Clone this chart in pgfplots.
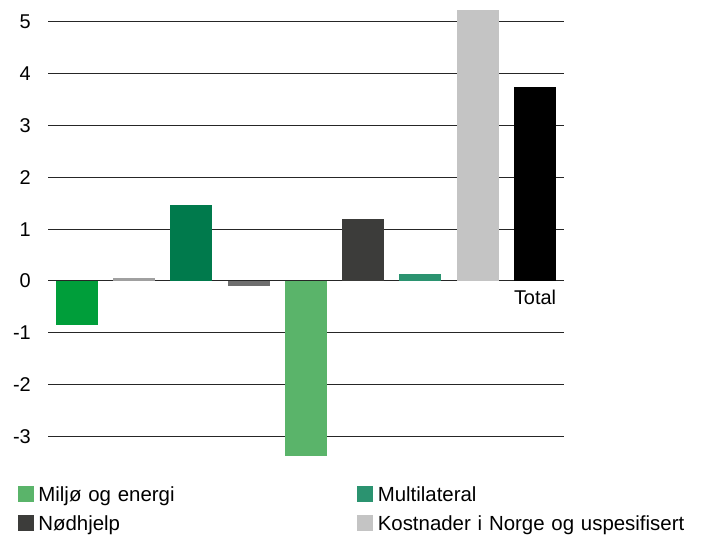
\documentclass[border=0pt]{standalone}
\usepackage{fontspec}
\setmainfont{Liberation Sans}
\usepackage{pgfplots}
\pgfplotsset{compat=1.18}
\definecolor{c1}{HTML}{009E3A}
\definecolor{c2}{HTML}{A0A0A0}
\definecolor{c3}{HTML}{007A4C}
\definecolor{c4}{HTML}{6E6E6E}
\definecolor{c5}{HTML}{5AB46A}
\definecolor{c6}{HTML}{3C3C3A}
\definecolor{c7}{HTML}{2B9370}
\definecolor{c8}{HTML}{C4C4C4}
\pgfplotsset{legsq/.style={legend image code/.code={\fill[#1] (0bp,0bp) rectangle (15bp,15bp);}}}
\begin{document}
\begin{tikzpicture}
\begin{axis}[
  x=57.3bp, y=51.8bp,
  xmin=0.5, xmax=9.5, ymin=-3.4, ymax=5.25,
  axis line style={draw=none}, tick style={draw=none},
  xtick=\empty, ytick={-3,...,5},
  ymajorgrids, grid style={black!85, line width=1bp},
  yticklabel style={anchor=east, inner sep=0pt, xshift=-17bp},
  /pgf/number format/assume math mode=true,
  font=\fontsize{20}{24}\selectfont,
  ybar, bar width=0.733, bar shift=0pt,
  clip=false,
  legend columns=2,
  legend style={at={(-0.0582,-0.0645)}, anchor=north west, draw=none, fill=none,
    inner sep=0pt, outer sep=0pt, column sep=5bp, row sep=9bp,
    cells={anchor=base west},
    nodes={inner sep=0pt, text width=314bp, align=left, text height=15bp, text depth=5bp},
    font=\fontsize{20.5}{24}\selectfont},
]
\addplot[fill=c1, draw=none, forget plot] coordinates {(1,-0.85)};
\addplot[fill=c2, draw=none, forget plot] coordinates {(2,0.06)};
\addplot[fill=c3, draw=none, forget plot] coordinates {(3,1.47)};
\addplot[fill=c4, draw=none, forget plot] coordinates {(4,-0.09)};
\addplot[fill=c5, draw=none, forget plot] coordinates {(5,-3.38)};
\addplot[fill=c6, draw=none, forget plot] coordinates {(6,1.20)};
\addplot[fill=c7, draw=none, forget plot] coordinates {(7,0.13)};
\addplot[fill=c8, draw=none, forget plot] coordinates {(8,5.23)};
\addplot[fill=black, draw=none, forget plot] coordinates {(9,3.75)};
\addlegendimage{legsq=c5}\addlegendentry{Miljø og energi}
\addlegendimage{legsq=c7}\addlegendentry{Multilateral}
\addlegendimage{legsq=c6}\addlegendentry{Nødhjelp}
\addlegendimage{legsq=c8}\addlegendentry{Kostnader i Norge og uspesifisert}
\node[anchor=north, inner sep=0pt, yshift=-9bp] at (axis cs:9,0) {Total};
\coordinate (tl) at (axis cs:-0.3377,5.4247);
\coordinate (br) at (axis cs:11.9136,-4.9228);
\end{axis}
\pgfresetboundingbox
\useasboundingbox (tl) rectangle (br);
\end{tikzpicture}
\end{document}
